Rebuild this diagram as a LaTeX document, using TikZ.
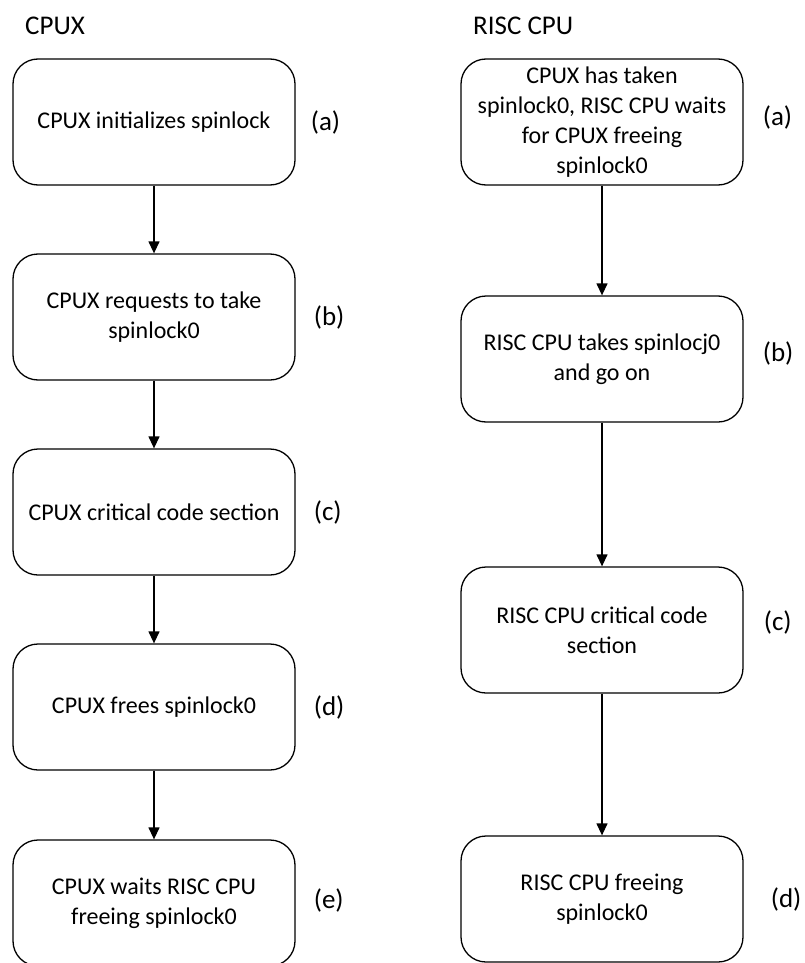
\documentclass[tikz,border=0pt]{standalone}
\usepackage{fontspec}
\setmainfont{Carlito}
\usepackage{tikz}
\usetikzlibrary{arrows.meta, positioning}
\definecolor{boxline}{HTML}{000000}
\definecolor{textdark}{HTML}{000000}
\tikzset{
  stepbox/.style={draw=boxline, rounded corners=25pt, line width=1.3pt,
    minimum width=282pt, minimum height=126pt, align=center, inner sep=4pt,
    text=textdark, font=\fontsize{24}{30}\selectfont},
  tag/.style={font=\fontsize{27}{30}\selectfont, inner sep=0pt, text=textdark},
  lane/.style={font=\fontsize{27}{30}\selectfont, inner sep=0pt, anchor=west, text=textdark},
  flow/.style={draw=boxline, line width=1.3pt, -{Triangle[length=12pt, width=11pt]}}
}

\begin{document}
\begin{tikzpicture}[x=1pt, y=-1pt]
\useasboundingbox (0,0) rectangle (805,963);

% CPUX side
\node[lane] (cpuxtitle) at (25,26) {CPUX};
\node[stepbox] (ca) at (154,122) {CPUX initializes spinlock};
\node[stepbox] (cb) at (154,317) {CPUX requests to take\\spinlock0};
\node[stepbox] (cc) at (154,512) {CPUX critical code section};
\node[stepbox] (cd) at (154,707) {CPUX frees spinlock0};
\node[stepbox] (ce) at (154,903) {CPUX waits RISC CPU\\freeing spinlock0};

\node[tag, right=15pt of ca] (cta) {(a)};
\node[tag, right=18pt of cb] (ctb) {(b)};
\node[tag, right=18pt of cc] (ctc) {(c)};
\node[tag, right=18pt of cd] (ctd) {(d)};
\node[tag, right=18pt of ce, yshift=3pt] (cte) {(e)};

\draw[flow] (ca) -- (cb);
\draw[flow] (cb) -- (cc);
\draw[flow] (cc) -- (cd);
\draw[flow] (cd) -- (ce);

% RISC CPU side
\node[lane] (risctitle) at (473,26) {RISC CPU};
\node[stepbox] (ra) at (602,122) {CPUX has taken\\spinlock0, RISC CPU waits\\for CPUX freeing\\spinlock0};
\node[stepbox] (rb) at (602,359) {RISC CPU takes spinlocj0\\and go on};
\node[stepbox] (rc) at (602,630) {RISC CPU critical code\\section};
\node[stepbox] (rd) at (602,899) {RISC CPU freeing\\spinlock0};

\node[tag, right=19pt of ra, yshift=5pt] (rta) {(a)};
\node[tag, right=19pt of rb, yshift=6pt] (rtb) {(b)};
\node[tag, right=20pt of rc, yshift=8pt] (rtc) {(c)};
\node[tag, right=27pt of rd] (rtd) {(d)};

\draw[flow] (ra) -- (rb);
\draw[flow] (rb) -- (rc);
\draw[flow] (rc) -- (rd);
\end{tikzpicture}
\end{document}
